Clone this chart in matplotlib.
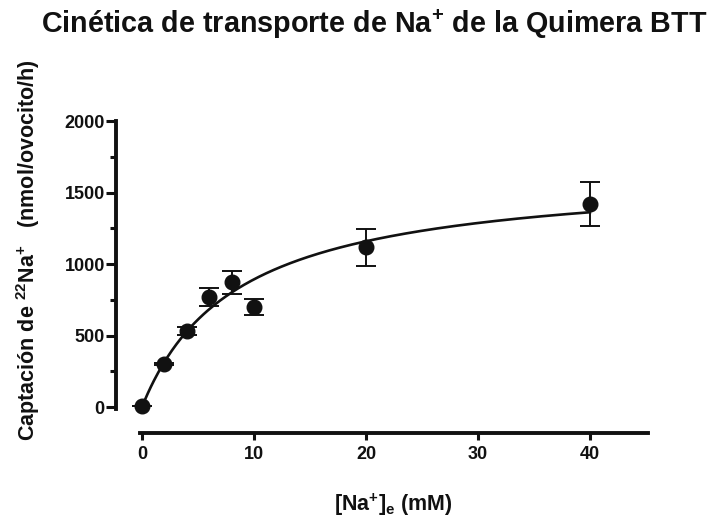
import matplotlib
matplotlib.use("Agg")
import matplotlib.pyplot as plt
import numpy as np
from matplotlib.ticker import MultipleLocator

plt.rcParams['font.family'] = ['Liberation Sans', 'DejaVu Sans']
plt.rcParams['font.weight'] = 'bold'
plt.rcParams['mathtext.fontset'] = 'custom'
plt.rcParams['mathtext.rm'] = 'Liberation Sans:bold'
plt.rcParams['mathtext.it'] = 'Liberation Sans:bold'
plt.rcParams['mathtext.bf'] = 'Liberation Sans:bold'
plt.rcParams['mathtext.default'] = 'rm'

# Data
na_mM = [0, 2, 4, 6, 8, 10, 20, 40]
uptake = [5, 301, 531, 769, 874, 699, 1119, 1420]
err = [0, 10, 28, 65, 80, 55, 130, 155]
# Michaelis-Menten fit parameters (estimated from the drawn curve)
vmax = 1653
km = 8.5

ink = '#111111'
fig = plt.figure(figsize=(7.12, 5.21), dpi=100)
ax = fig.add_axes([0.1629, 0.1689, 0.760, 0.6257])

xs = np.linspace(0, 40, 300)
ax.plot(xs, vmax * xs / (km + xs), color=ink, lw=1.9, zorder=2)
ax.errorbar(na_mM, uptake, yerr=err, fmt='o', color=ink, ms=10.5,
            ecolor=ink, elinewidth=1.4, capsize=7.5, capthick=1.4, zorder=3)

ax.set_xlim(-2.32, 46)
ax.set_ylim(-182, 2100)
for s in ['top', 'right']:
    ax.spines[s].set_visible(False)
for s in ['left', 'bottom']:
    ax.spines[s].set_linewidth(2.8)
    ax.spines[s].set_color(ink)
ax.spines['left'].set_bounds(-15, 2000)
ax.spines['bottom'].set_bounds(-0.18, 45.2)

ax.set_xticks([0, 10, 20, 30, 40])
ax.set_yticks([0, 500, 1000, 1500, 2000])
ax.yaxis.set_minor_locator(MultipleLocator(250))
ax.tick_params(axis='y', which='major', length=7, width=2.2, color=ink, labelsize=13, pad=1)
ax.tick_params(axis='y', which='minor', length=4, width=2.2, color=ink)
ax.tick_params(axis='x', which='major', length=5, width=2.2, color=ink, labelsize=13, pad=4)
for lab in ax.get_xticklabels() + ax.get_yticklabels():
    lab.set_fontweight('bold')
    lab.set_color(ink)

fig.text(0.525, 0.937, r'Cinética de transporte de Na$^{+}$ de la Quimera BTT',
         ha='center', va='baseline', fontsize=20.7, fontweight='bold', color=ink)
fig.text(0.553, 0.031, r'[Na$^{+}$]$_{e}$ (mM)', ha='center', va='center',
         fontsize=15.5, fontweight='bold', color=ink)
fig.text(0.040, 0.52, r'Captación de $^{22}$Na$^{+}$   (nmol/ovocito/h)', ha='center',
         va='center', rotation=90, fontsize=15.5, fontweight='bold', color=ink)

fig.savefig('out.png', dpi=100, facecolor='white')
